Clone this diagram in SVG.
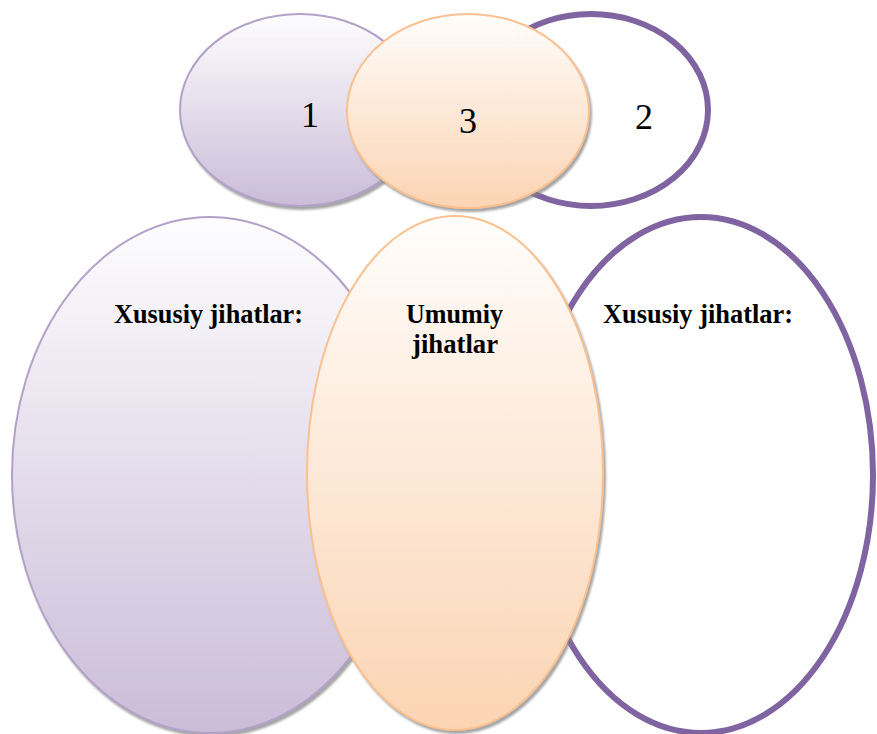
<svg xmlns="http://www.w3.org/2000/svg" width="877" height="734" viewBox="0 0 877 734">
  <style>
    .purple { fill: url(#gPurple); stroke: #b3a2c7; stroke-width: 2; filter: url(#shadow); }
    .orange { fill: url(#gOrange); stroke: #fac090; stroke-width: 2; filter: url(#shadow); }
    .outline { fill: #ffffff; stroke: #8064a2; stroke-width: 6; }
    .num { font-family: "Liberation Serif", "Times New Roman", serif; font-size: 36px; fill: #000; text-anchor: middle; }
    .lbl { font-family: "Liberation Serif", "Times New Roman", serif; font-size: 27px; font-weight: bold; fill: #000; text-anchor: middle; }
  </style>
  <defs>
    <linearGradient id="gPurple" x1="0" y1="0" x2="0" y2="1">
      <stop offset="0" stop-color="#fdfdfe"/>
      <stop offset="1" stop-color="#cbbcd8"/>
    </linearGradient>
    <linearGradient id="gOrange" x1="0" y1="0" x2="0" y2="1">
      <stop offset="0" stop-color="#fffdfb"/>
      <stop offset="1" stop-color="#fbd4b3"/>
    </linearGradient>
    <filter id="shadow" x="-10%" y="-10%" width="125%" height="125%">
      <feDropShadow dx="2" dy="3" stdDeviation="0.8" flood-color="#7f7f7f" flood-opacity="0.7"/>
    </filter>
  </defs>

  <g id="node-1">
    <ellipse class="purple" cx="300" cy="110" rx="120" ry="96"/>
    <text class="num" x="310" y="127">1</text>
  </g>
  <g id="node-2">
    <ellipse class="outline" cx="591" cy="110" rx="117" ry="96"/>
    <text class="num" x="644" y="129">2</text>
  </g>
  <g id="node-3">
    <ellipse class="orange" cx="468" cy="111" rx="121" ry="97"/>
    <text class="num" x="468" y="133">3</text>
  </g>

  <g id="node-left">
    <ellipse class="purple" cx="210" cy="475" rx="198" ry="258"/>
    <text class="lbl" x="208.5" y="323" textLength="189" lengthAdjust="spacingAndGlyphs">Xususiy jihatlar:</text>
  </g>
  <g id="node-right">
    <ellipse class="outline" cx="701" cy="475" rx="172" ry="258"/>
    <text class="lbl" x="698" y="323" textLength="190" lengthAdjust="spacingAndGlyphs">Xususiy jihatlar:</text>
  </g>
  <g id="node-middle">
    <ellipse class="orange" cx="455" cy="473" rx="148" ry="257"/>
    <text class="lbl" x="454.5" y="323" textLength="97" lengthAdjust="spacingAndGlyphs">Umumiy</text>
    <text class="lbl" x="455" y="353" textLength="86" lengthAdjust="spacingAndGlyphs">jihatlar</text>
  </g>

  <g id="connectors"></g>
</svg>
